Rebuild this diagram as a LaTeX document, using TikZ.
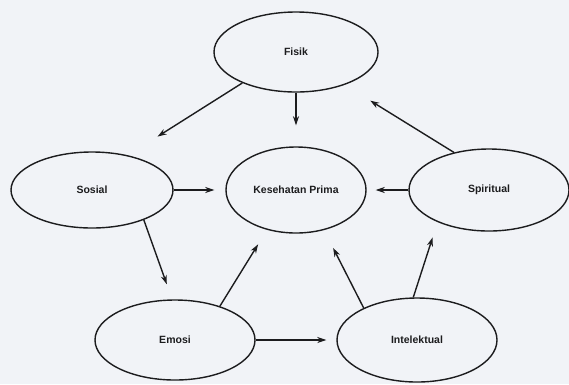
\documentclass[tikz,border=0pt]{standalone}
\usepackage{fontspec}
\setmainfont{Liberation Sans}
\usetikzlibrary{shapes.geometric,arrows.meta}
\definecolor{scan}{RGB}{241,243,247}
\definecolor{ink}{RGB}{28,28,30}

\begin{document}
\begin{tikzpicture}[x=1pt,y=-1pt,
  aspek/.style={draw=ink,ellipse,line width=1.4pt,inner sep=0pt,text=ink,
    font=\fontsize{10.5}{12}\selectfont\bfseries},
  panah/.style={draw=ink,line width=1.4pt,-{Stealth[length=9pt,width=6pt]}}]
\fill[scan] (0,0) rectangle (569,384);
\useasboundingbox (0,0) rectangle (569,384);
% the aspects
\node[aspek,minimum width=164pt,minimum height=80pt] (fisik) at (296,52) {Fisik};
\node[aspek,minimum width=140pt,minimum height=86pt] (kesehatan) at (296,190) {Kesehatan Prima};
\node[aspek,minimum width=162pt,minimum height=76pt] (sosial) at (92,190) {Sosial};
\node[aspek,minimum width=160pt,minimum height=82pt] (spiritual) at (489,190) {Spiritual};
\node[aspek,minimum width=160pt,minimum height=80pt] (emosi) at (175,340) {Emosi};
\node[aspek,minimum width=160pt,minimum height=84pt] (intelektual) at (417,340) {Intelektual};
% arrows round the circle
\draw[panah,shorten >=35pt] (fisik.210) -- (sosial.44);
\draw[panah,shorten >=16pt] (sosial.-30) -- (emosi.94);
\draw[panah,shorten >=10pt] (emosi.east) -- (intelektual.west);
\draw[panah,shorten >=16pt] (intelektual.95) -- (spiritual.212);
\draw[panah,shorten >=30pt] (spiritual.133) -- (fisik.-34);
% arrows into the middle
\draw[panah,shorten >=21pt] (fisik.south) -- (kesehatan.north);
\draw[panah,shorten >=11pt] (sosial.east) -- (kesehatan.west);
\draw[panah,shorten >=9pt] (spiritual.west) -- (kesehatan.east);
\draw[panah,shorten >=17pt] (emosi.37) -- (kesehatan.234);
\draw[panah,shorten >=20pt] (intelektual.149) -- (kesehatan.305);
\end{tikzpicture}
\end{document}
